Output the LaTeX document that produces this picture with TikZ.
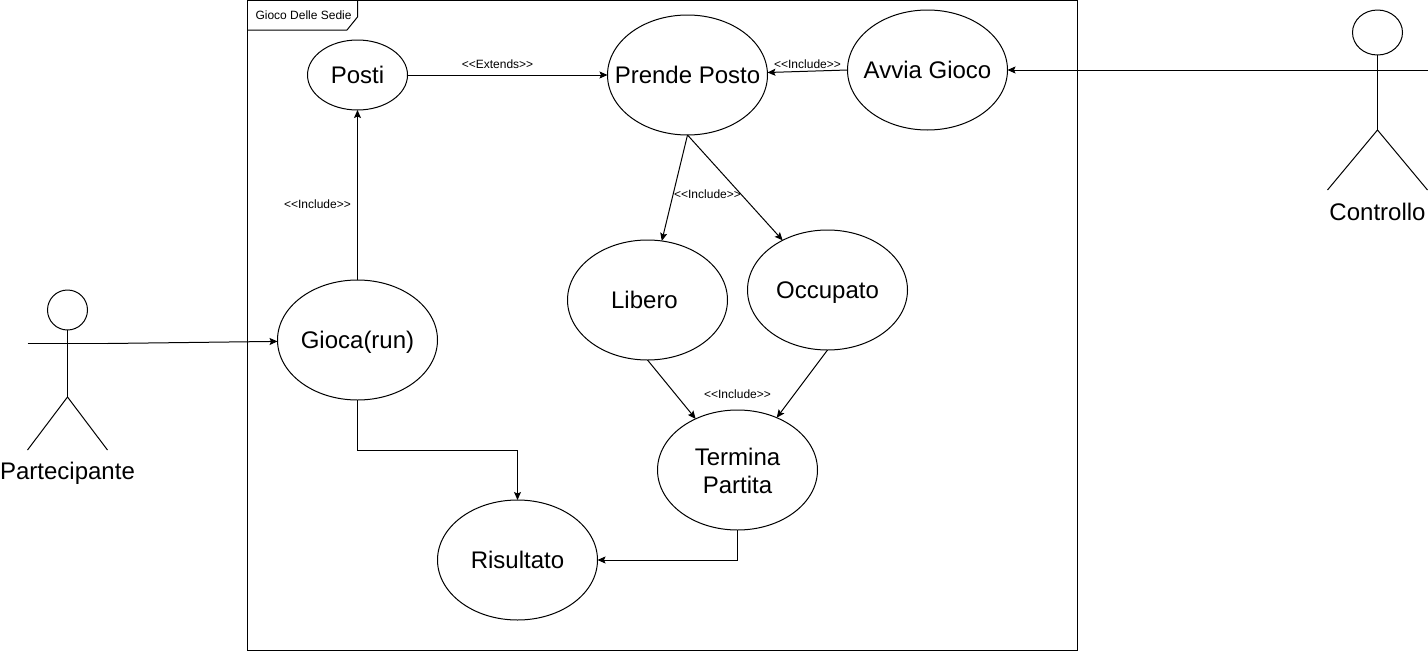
\documentclass[tikz,border=0pt]{standalone}
\usepackage{fontspec}
\setmainfont{Liberation Sans}
\usetikzlibrary{shapes.geometric, arrows.meta, positioning}

\begin{document}
\begin{tikzpicture}[
    x=1pt, y=-1pt,
    usecase/.style={ellipse, draw, minimum width=160pt, minimum height=120pt, inner xsep=-30pt, inner ysep=0pt, outer sep=0pt, align=center, font=\fontsize{24}{28}\selectfont, execute at begin node=\rule[-5pt]{0pt}{27pt}},
    head/.style={ellipse, draw, inner sep=0pt, outer sep=0pt},
    actorname/.style={inner sep=0pt, font=\fontsize{24}{28}\selectfont},
    stereotype/.style={inner sep=0pt, font=\fontsize{12}{14}\selectfont},
    arrow/.style={-{Stealth[length=8pt, width=7pt, inset=1.5pt]}},
    line width=1pt
]
\useasboundingbox (0,0) rectangle (1428,651);

% frame
\coordinate (frameA) at (247.5,0.5);
\coordinate (frameB) at (1077.5,650.5);
\draw (frameA) rectangle (frameB);
\draw (247.5,30) -- (347,30) -- (357.5,17) -- (357.5,0.5);
\node[stereotype, anchor=west] (title) at (255,15) {Gioco Delle Sedie};

% use cases
\node[usecase, minimum width=100pt, minimum height=70pt, inner xsep=-20pt] (posti) at (357.5,75) {Posti};
\node[usecase] (prende) at (687.5,75) {Prende Posto};
\node[usecase] (avvia) at (927.5,70) {Avvia Gioco};
\node[usecase] (libero) at (647.5,300) {Libero\kern6pt};
\node[usecase] (occupato) at (827.5,290) {Occupato};
\node[usecase] (gioca) at (357.5,340) {Gioca(run)};
\node[usecase] (termina) at (737.5,470) {\rule{0pt}{23.5pt}Termina\\Partita};
\node[usecase] (risultato) at (517.5,560) {Risultato};

% actor left
\node[head, minimum width=40pt, minimum height=40pt] (headP) at (67.5,310) {};
\coordinate (armPl) at (27.5,343.5);
\coordinate (armPr) at (107.5,343.5);
\coordinate (hipP) at (67.5,397);
\coordinate (footPl) at (27.5,450);
\coordinate (footPr) at (107.5,450);
\draw (headP.south) -- (hipP);
\draw (armPl) -- (armPr);
\draw (footPl) -- (hipP) -- (footPr);
\node[actorname] (partecipante) at (67.5,473) {Partecipante};

% actor right
\node[head, minimum width=50pt, minimum height=45pt] (headC) at (1377.5,32.5) {};
\coordinate (armCl) at (1327.5,70);
\coordinate (armCr) at (1427.5,70);
\coordinate (hipC) at (1377.5,130);
\coordinate (footCl) at (1327.5,190);
\coordinate (footCr) at (1427.5,190);
\draw (headC.south) -- (hipC);
\draw (armCl) -- (armCr);
\draw (footCl) -- (hipC) -- (footCr);
\node[actorname] (controllo) at (1377.5,212) {Controllo};

% connectors
\draw[arrow] (armPr) -- (gioca.181);
\draw[arrow] (armCr) -- (avvia.east);
\draw[arrow] (gioca.north) -- (posti.south);
\draw[arrow] (posti.east) -- (prende.west);
\draw[arrow] (avvia.west) -- (prende);
\draw[arrow] (prende.south) -- (libero);
\draw[arrow] (prende.south) -- (occupato);
\draw[arrow] (libero.south) -- (termina);
\draw[arrow] (occupato.south) -- (termina);
\draw[arrow] (gioca.south) |- ([yshift=50pt]risultato.north) -- (risultato.north);
\draw[arrow] (termina.south) |- (risultato.east);

% labels
\node[stereotype] (extends) at (497.5,64.5) {<{}<Extends>{}>};
\node[stereotype] (incA) at (317.5,204.5) {<{}<Include>{}>};
\node[stereotype] (incB) at (807.5,64.5) {<{}<Include>{}>};
\node[stereotype] (incC) at (707.5,194.5) {<{}<Include>{}>};
\node[stereotype] (incD) at (737.5,394.5) {<{}<Include>{}>};

\end{tikzpicture}
\end{document}
